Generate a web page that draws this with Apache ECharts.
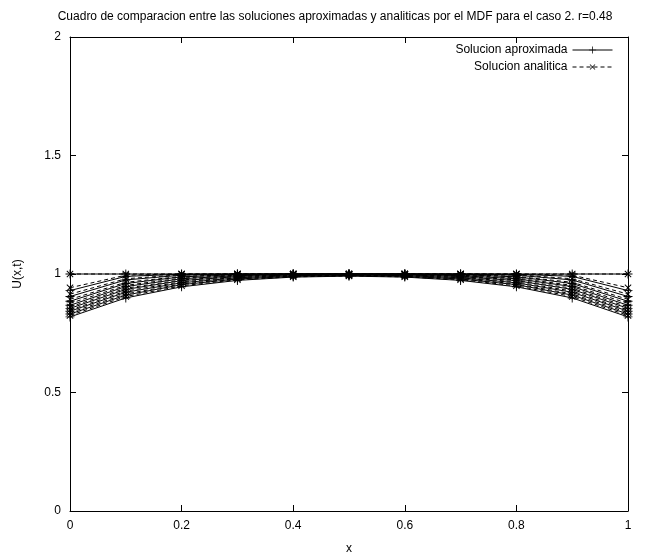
<!DOCTYPE html>
<html>
<head>
<meta charset="utf-8">
<script src="https://cdn.jsdelivr.net/npm/echarts@6/dist/echarts.min.js"></script>
<style>html,body{margin:0;padding:0;background:#fff}#c{width:656px;height:560px}</style>
</head>
<body>
<div id="c"></div>
<script>
var xValues = [0, 0.1, 0.2, 0.3, 0.4, 0.5, 0.6, 0.7, 0.8, 0.9, 1];
var xTicks = [0, 0.2, 0.4, 0.6, 0.8, 1];
var yTicks = [0, 0.5, 1, 1.5, 2];

var approx0 = [1, 1, 1, 1, 1, 1, 1, 1, 1, 1, 1];
var approx1 = [0.930, 0.990, 0.999, 1.000, 1.000, 1.000, 1.000, 1.000, 0.999, 0.990, 0.930];
var approx2 = [0.905, 0.975, 0.995, 0.999, 1.000, 1.000, 1.000, 0.999, 0.995, 0.975, 0.905];
var approx3 = [0.885, 0.960, 0.988, 0.997, 0.999, 1.000, 0.999, 0.997, 0.988, 0.960, 0.885];
var approx4 = [0.868, 0.947, 0.980, 0.993, 0.998, 0.999, 0.998, 0.993, 0.980, 0.947, 0.868];
var approx5 = [0.855, 0.935, 0.972, 0.989, 0.996, 0.998, 0.996, 0.989, 0.972, 0.935, 0.855];
var approx6 = [0.843, 0.923, 0.963, 0.984, 0.993, 0.996, 0.993, 0.984, 0.963, 0.923, 0.843];
var approx7 = [0.831, 0.911, 0.955, 0.979, 0.990, 0.994, 0.990, 0.979, 0.955, 0.911, 0.831];
var approx8 = [0.819, 0.899, 0.946, 0.973, 0.987, 0.991, 0.987, 0.973, 0.946, 0.899, 0.819];

var anal0 = [1, 1, 1, 1, 1, 1, 1, 1, 1, 1, 1];
var anal1 = [0.942, 0.995, 1.000, 1.000, 1.000, 1.000, 1.000, 1.000, 1.000, 0.995, 0.942];
var anal2 = [0.915, 0.980, 0.997, 1.000, 1.000, 1.000, 1.000, 1.000, 0.997, 0.980, 0.915];
var anal3 = [0.893, 0.965, 0.990, 0.998, 1.000, 1.000, 1.000, 0.998, 0.990, 0.965, 0.893];
var anal4 = [0.876, 0.952, 0.983, 0.995, 0.999, 0.999, 0.999, 0.995, 0.983, 0.952, 0.876];
var anal5 = [0.861, 0.940, 0.975, 0.991, 0.997, 0.998, 0.997, 0.991, 0.975, 0.940, 0.861];
var anal6 = [0.848, 0.928, 0.967, 0.986, 0.994, 0.996, 0.994, 0.986, 0.967, 0.928, 0.848];
var anal7 = [0.837, 0.916, 0.958, 0.981, 0.991, 0.994, 0.991, 0.981, 0.958, 0.916, 0.837];
var anal8 = [0.825, 0.905, 0.950, 0.976, 0.988, 0.992, 0.988, 0.976, 0.950, 0.905, 0.825];

var approxCurves = [approx0, approx1, approx2, approx3, approx4, approx5, approx6, approx7, approx8];
var analCurves = [anal0, anal1, anal2, anal3, anal4, anal5, anal6, anal7, anal8];

var plusPath = 'path://M-5,-0.5h10v1h-10z M-0.5,-5h1v10h-1z';
var FONT = 'Liberation Sans';

function pairs(ys) { return xValues.map(function (x, i) { return [x, ys[i]]; }); }

var series = [];
approxCurves.forEach(function (c) {
  series.push({
    name: 'Solucion aproximada', type: 'line', data: pairs(c),
    symbol: plusPath, symbolSize: 9, showSymbol: true,
    lineStyle: { color: '#000', width: 1, type: 'solid' },
    itemStyle: { color: '#000' }, emphasis: { disabled: true }, animation: false, z: 3
  });
});
analCurves.forEach(function (c) {
  series.push({
    name: 'Solucion analitica', type: 'line', data: pairs(c),
    symbol: plusPath, symbolSize: 9, symbolRotate: 45, showSymbol: true,
    lineStyle: { color: '#000', width: 1, type: [4, 3] },
    itemStyle: { color: '#000' }, emphasis: { disabled: true }, animation: false, z: 2
  });
});

var axisLineStyle = { show: true, onZero: false, lineStyle: { color: '#000', width: 1 } };
var tickStyle = { show: true, inside: true, length: 6, lineStyle: { color: '#000' } };

var chart = echarts.init(document.getElementById('c'), null, { renderer: 'canvas' });
chart.setOption({
  animation: false,
  backgroundColor: '#fff',
  title: {
    text: 'Cuadro de comparacion entre las soluciones aproximadas y analiticas por el MDF para el caso 2. r=0.48',
    left: 330, top: 6, textAlign: 'center',
    textStyle: { fontFamily: FONT, fontSize: 12, fontWeight: 'normal', color: '#000' }
  },
  legend: {
    orient: 'vertical', right: 38, top: 39, align: 'right',
    itemWidth: 40, itemHeight: 9, itemGap: 5,
    textStyle: { fontFamily: FONT, fontSize: 12, color: '#000' },
    lineStyle: { width: 1 },
    data: ['Solucion aproximada', 'Solucion analitica'],
    selectedMode: false
  },
  grid: { left: 70, right: 28, top: 37, bottom: 48, containLabel: false },
  xAxis: [{
    type: 'value', min: 0, max: 1, interval: 0.2,
    name: 'x', nameLocation: 'middle', nameGap: 32,
    nameTextStyle: { fontFamily: FONT, fontSize: 12, color: '#000' },
    axisLine: axisLineStyle, axisTick: tickStyle,
    axisLabel: { fontFamily: FONT, fontSize: 12, color: '#000', margin: 9,
      formatter: function (v) { var r = Math.round(v * 10) / 10; return xTicks.indexOf(r) >= 0 ? String(r) : ''; } },
    splitLine: { show: false }
  }, {
    type: 'value', min: 0, max: 1, interval: 0.2, position: 'top',
    axisLine: axisLineStyle, axisTick: tickStyle,
    axisLabel: { show: false }, splitLine: { show: false }
  }],
  yAxis: [{
    type: 'value', min: 0, max: 2, interval: 0.5,
    name: 'U(x,t)', nameLocation: 'middle', nameGap: 46, nameRotate: 90,
    nameTextStyle: { fontFamily: FONT, fontSize: 12, color: '#000' },
    axisLine: axisLineStyle, axisTick: tickStyle,
    axisLabel: { fontFamily: FONT, fontSize: 12, color: '#000', margin: 9,
      formatter: function (v) { return yTicks.indexOf(v) >= 0 ? String(v) : ''; } },
    splitLine: { show: false }
  }, {
    type: 'value', min: 0, max: 2, interval: 0.5, position: 'right',
    axisLine: axisLineStyle, axisTick: tickStyle,
    axisLabel: { show: false }, splitLine: { show: false }
  }],
  series: series
});
</script>
</body>
</html>
